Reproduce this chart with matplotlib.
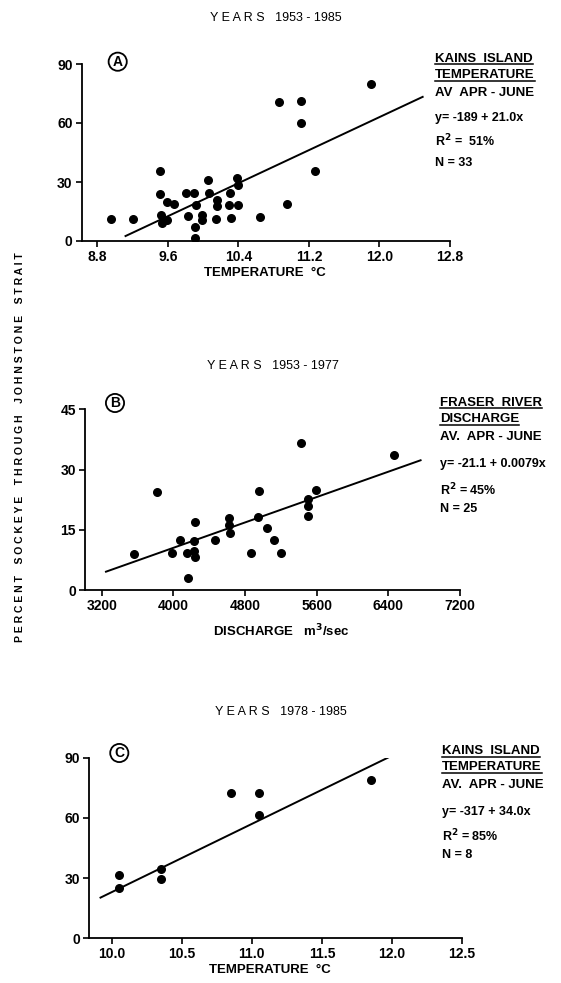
import numpy as np
import matplotlib.pyplot as plt
from matplotlib.lines import Line2D

# Panel A: Kains Island temperature vs percent sockeye, 1953-1985
temp_a = [8.95, 9.20, 9.51, 9.51, 9.52, 9.53, 9.59, 9.59, 9.67, 9.81, 9.83, 9.90,
          9.92, 9.91, 9.91, 9.99, 9.99, 10.06, 10.07, 10.16, 10.16, 10.15, 10.30,
          10.29, 10.32, 10.38, 10.39, 10.40, 10.64, 10.86, 10.95, 11.11, 11.11,
          11.27, 11.90]
pct_a = [11.3, 11.2, 35.7, 24.0, 13.0, 9.1, 10.8, 19.8, 18.8, 24.4, 12.5, 24.5,
         18.1, 6.9, 1.7, 13.4, 10.8, 31.1, 24.4, 20.8, 17.9, 11.3, 24.5,
         18.1, 11.8, 32.0, 28.3, 18.4, 12.0, 70.9, 18.8, 71.4, 59.9,
         35.7, 79.7]
fit_a = (-189, 21.0)
fit_range_a = (9.12, 12.49)

# Panel B: Fraser River discharge vs percent sockeye, 1953-1977
disch_b = [3565, 3814, 3989, 4074, 4149, 4164, 4231, 4242, 4234, 4242, 4465, 4625,
           4625, 4633, 4867, 4956, 4949, 5042, 5120, 5198, 5425, 5507, 5500, 5507,
           5589, 6463]
pct_b = [9.0, 24.3, 9.2, 12.4, 9.1, 3.1, 12.3, 16.9, 9.8, 8.1, 12.5, 18.0,
         16.1, 14.1, 9.1, 24.6, 18.3, 15.4, 12.5, 9.1, 36.5, 22.6, 20.8, 18.4,
         24.8, 33.6]
fit_b = (-21.1, 0.0079)
fit_range_b = (3248, 6760)

# Panel C: Kains Island temperature vs percent sockeye, 1978-1985
temp_c = [10.05, 10.05, 10.35, 10.35, 10.85, 11.05, 11.05, 11.85]
pct_c = [31.6, 25.1, 34.5, 29.7, 72.2, 72.6, 61.3, 78.7]
fit_c = (-317, 34.0)
fit_range_c = (9.92, 12.09)

W, H = 561, 983
plt.rcParams['font.family'] = ['Liberation Sans', 'DejaVu Sans']
fig = plt.figure(figsize=(W / 100, H / 100), dpi=100)
fs = 9.5


def px(x, y):
    # pixel position -> figure fraction
    return x / W, 1 - y / H


def panel(rect, xs, ys, fit, frange, xlim, xticks, xticklabels, ylim, yticks,
          letter, letter_pos):
    ax = fig.add_axes(rect)
    ax.scatter(xs, ys, s=30, color='black', zorder=3)
    xf = np.array(frange)
    ax.plot(xf, fit[0] + fit[1] * xf, color='black', lw=1.4)
    ax.set_xlim(*xlim)
    ax.set_ylim(*ylim)
    ax.set_xticks(xticks)
    ax.set_xticklabels(xticklabels, fontweight='bold')
    ax.set_yticks(yticks)
    ax.set_yticklabels([str(v) for v in yticks], fontweight='bold')
    for s in ['top', 'right']:
        ax.spines[s].set_visible(False)
    for s in ['left', 'bottom']:
        ax.spines[s].set_linewidth(1.3)
    ax.tick_params(direction='out', length=4, width=1.2, labelsize=10, pad=2.5)
    ax.text(*letter_pos, letter, transform=fig.transFigure, fontsize=10,
            fontweight='bold', ha='center', va='center',
            bbox=dict(boxstyle='circle,pad=0.15', fc='white', ec='black', lw=1.3))
    return ax


panel([81.7 / W, 1 - 241 / H, (450 - 81.7) / W, 177 / H],
      temp_a, pct_a, fit_a, fit_range_a, (8.623, 12.8),
      [8.8, 9.6, 10.4, 11.2, 12.0, 12.8],
      ['8.8', '9.6', '10.4', '11.2', '12.0', '12.8'],
      (0, 90), [0, 30, 60, 90], 'A', px(117.7, 61.7))

panel([85 / W, 1 - 590 / H, (460 - 85) / W, 180.7 / H],
      disch_b, pct_b, fit_b, fit_range_b, (3014, 7200),
      [3200, 4000, 4800, 5600, 6400, 7200],
      ['3200', '4000', '4800', '5600', '6400', '7200'],
      (0, 45), [0, 15, 30, 45], 'B', px(115, 403))

panel([89.3 / W, 1 - 938.3 / H, (462 - 89.3) / W, 180.6 / H],
      temp_c, pct_c, fit_c, fit_range_c, (9.84, 12.5),
      [10.0, 10.5, 11.0, 11.5, 12.0, 12.5],
      ['10.0', '10.5', '11.0', '11.5', '12.0', '12.5'],
      (0, 90), [0, 30, 60, 90], 'C', px(119.3, 753))

# titles and axis labels
fig.text(*px(276, 18), 'Y E A R S   1953 - 1985', ha='center', va='center', fontsize=9)
fig.text(*px(273, 366), 'Y E A R S   1953 - 1977', ha='center', va='center', fontsize=9)
fig.text(*px(281, 712), 'Y E A R S   1978 - 1985', ha='center', va='center', fontsize=9)
fig.text(*px(265, 273), 'TEMPERATURE  °C', ha='center', va='center', fontsize=fs,
         fontweight='bold')
fig.text(*px(281, 631), 'DISCHARGE   m$^\\mathbf{3}$/sec', ha='center', va='center',
         fontsize=fs, fontweight='bold')
fig.text(*px(270, 970), 'TEMPERATURE  °C', ha='center', va='center', fontsize=fs,
         fontweight='bold')
fig.text(*px(20, 447), 'P E R C E N T    S O C K E Y E    T H R O U G H    J O H N S T O N E    S T R A I T',
         rotation=90, ha='center', va='center', fontsize=7.5, fontweight='bold')

# side annotations
renderer = fig.canvas.get_renderer()


def side_text(x, lines):
    for i, (y, txt, underline) in enumerate(lines):
        size = 9.5 if i < 3 else 9
        # y is the text centre; put the baseline about 4.5 px below it
        base = y + 4.5
        t = fig.text(*px(x, base), txt, ha='left', va='center_baseline' if '$' in txt else 'baseline',
                     fontsize=size, fontweight='bold')
        if '$' in txt:
            t.set_y(1 - (y + 1.0) / H)
        if underline:
            bb = t.get_window_extent(renderer)
            yy = (H - base) - 2.0
            fig.add_artist(Line2D([bb.x0 / W, bb.x1 / W], [yy / H, yy / H],
                                  color='black', lw=1.1, transform=fig.transFigure))


side_text(435, [(57, 'KAINS  ISLAND', True), (74, 'TEMPERATURE', True),
                (91, 'AV  APR - JUNE', False), (116, 'y= -189 + 21.0x', False),
                (139, 'R$^\\mathbf{2}$ =  51%', False), (161, 'N = 33', False)])
side_text(440, [(401, 'FRASER  RIVER', True), (418, 'DISCHARGE', True),
                (435, 'AV.  APR - JUNE', False), (463, 'y= -21.1 + 0.0079x', False),
                (487, 'R$^\\mathbf{2}$ = 45%', False), (508, 'N = 25', False)])
side_text(442, [(750, 'KAINS  ISLAND', True), (766, 'TEMPERATURE', True),
                (783, 'AV.  APR - JUNE', False), (811, 'y= -317 + 34.0x', False),
                (833, 'R$^\\mathbf{2}$ = 85%', False), (853, 'N = 8', False)])

fig.savefig('out.png', dpi=100)
